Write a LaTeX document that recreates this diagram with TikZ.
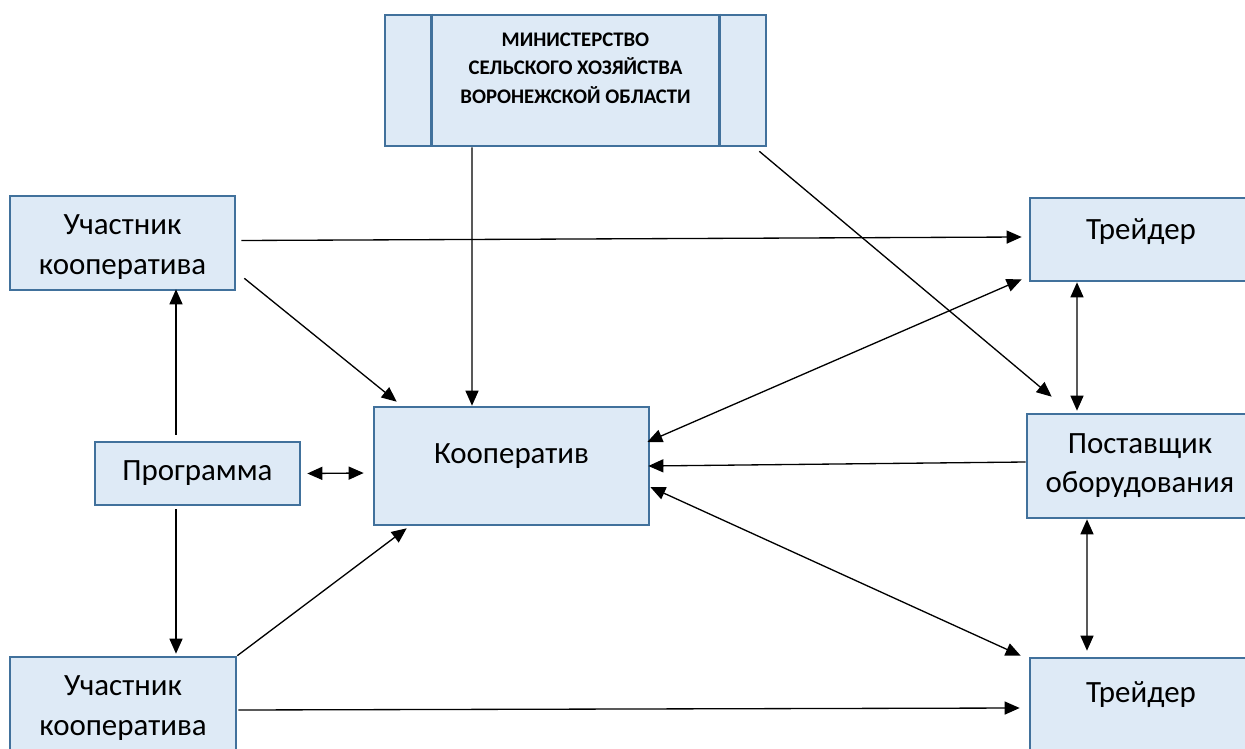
\documentclass[tikz,border=0pt]{standalone}
\usepackage{fontspec}
\setmainfont{Carlito}
\usepackage{tikz}
\usetikzlibrary{arrows.meta}

\definecolor{boxfill}{RGB}{222,234,246}
\definecolor{boxline}{RGB}{65,113,156}

\begin{document}
\begin{tikzpicture}[
      unit/.style={rectangle, draw=boxline, fill=boxfill, line width=1.5pt, align=center, inner sep=0pt, font=\fontsize{17.6}{22.2}\selectfont},
      title/.style={align=center, inner sep=0pt, font=\fontsize{11.8}{16.1}\selectfont\bfseries},
      link/.style={line width=0.75pt},
      >={Triangle[length=0.3cm, width=0.26cm]},
      ]
      \useasboundingbox (0,0) rectangle (24.9,-14.98);

      \node[unit, minimum width=7.62cm, minimum height=2.62cm] (MIN) at (11.51,-1.61) {};
      \draw[boxline, line width=1.5pt] ([xshift=0.96cm]MIN.north west) -- ([xshift=0.96cm]MIN.south west);
      \draw[boxline, line width=1.5pt] ([xshift=-0.96cm]MIN.north east) -- ([xshift=-0.96cm]MIN.south east);
      \node[title] (MINtext) at (11.51,-1.36) {МИНИСТЕРСТВО\\СЕЛЬСКОГО ХОЗЯЙСТВА\\ВОРОНЕЖСКОЙ ОБЛАСТИ};

      \node[unit, minimum width=4.5cm, text height=1.56cm, text depth=0.32cm] (PA1) at (2.45,-4.86) {Участник\\кооператива};
      \node[unit, minimum width=4.52cm, text height=1.56cm, text depth=0.32cm] (PA2) at (2.46,-14.08) {Участник\\кооператива};
      \node[unit, minimum width=4.1cm, minimum height=1.26cm] (PR) at (3.95,-9.47) {Программа};
      \node[unit, minimum width=5.5cm, text height=1.12cm, text depth=1.24cm] (CO) at (10.23,-9.32) {Кооператив};
      \node[unit, minimum width=4.44cm, text height=0.82cm, text depth=0.84cm] (TR1) at (22.82,-4.79) {Трейдер};
      \node[unit, minimum width=4.52cm, minimum height=2.08cm] (SU) at (22.8,-9.32) {Поставщик\\оборудования};
      \node[unit, minimum width=4.44cm, text height=0.88cm, text depth=1.12cm] (TR2) at (22.82,-14.16) {Трейдер};

      \draw[link, ->] ([xshift=0.1cm, yshift=0.05cm]PA1.east) -- ([xshift=-0.14cm, yshift=0.05cm]TR1.west);
      \draw[link, ->] ([xshift=0.16cm, yshift=0.26cm]PA1.south east) -- ([xshift=0.48cm, yshift=0.08cm]CO.north west);
      \draw[link, ->] ([xshift=-2.07cm]MIN.south) -- ([xshift=-0.79cm]CO.north);
      \draw[link, ->] ([xshift=-0.16cm, yshift=-0.08cm]MIN.south east) -- ([xshift=0.52cm, yshift=0.32cm]SU.north west);
      \draw[link, <->] ([xshift=-0.06cm, yshift=0.48cm]CO.east) -- ([xshift=-0.14cm, yshift=0.06cm]TR1.south west);
      \draw[link, ->] ([yshift=0.08cm]SU.west) -- ([xshift=-0.04cm]CO.east);
      \draw[link, <->] ([yshift=-0.42cm]CO.east) -- ([xshift=-0.16cm, yshift=0.02cm]TR2.north west);
      \draw[link, <->] ([xshift=-1.28cm]TR1.south) -- ([xshift=-1.26cm, yshift=0.04cm]SU.north);
      \draw[link, <->] ([xshift=-1.06cm]SU.south) -- ([xshift=-1.08cm, yshift=0.12cm]TR2.north);
      \draw[link, ->] ([xshift=-0.43cm, yshift=0.12cm]PR.north) -- ([xshift=1.07cm, yshift=0.04cm]PA1.south);
      \draw[link, ->] ([xshift=-0.43cm, yshift=-0.06cm]PR.south) -- ([xshift=1.06cm, yshift=0.04cm]PA2.north);
      \draw[link, <->] ([xshift=0.12cm]PR.east) -- ([xshift=-0.18cm, yshift=-0.14cm]CO.west);
      \draw[link, ->] (PA2.north east) -- ([xshift=0.68cm, yshift=-0.04cm]CO.south west);
      \draw[link, ->] ([xshift=0.02cm, yshift=-0.12cm]PA2.east) -- ([xshift=-0.18cm]TR2.west);
    \end{tikzpicture}
\end{document}
